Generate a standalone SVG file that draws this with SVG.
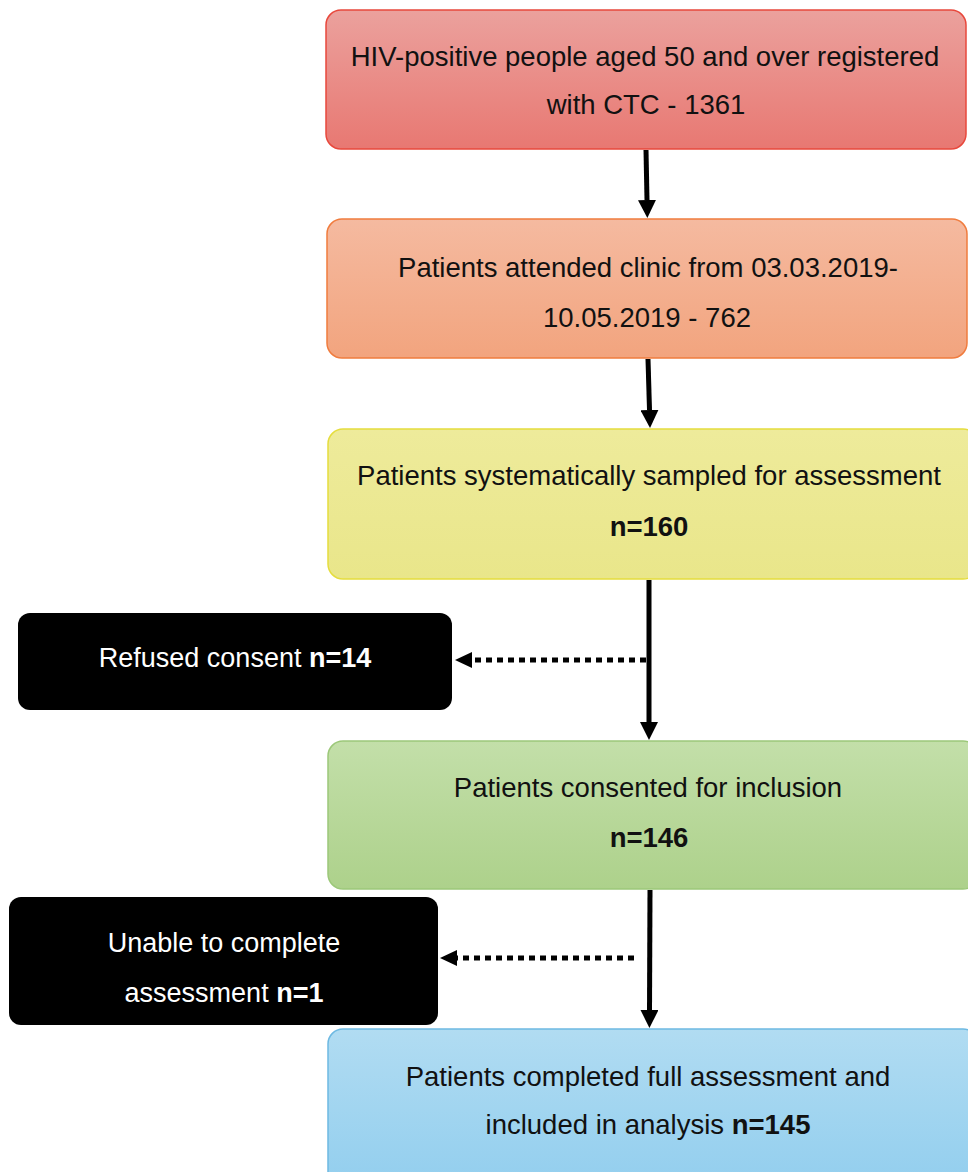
<svg xmlns="http://www.w3.org/2000/svg" width="968" height="1172" viewBox="0 0 968 1172">
<style>
  .t { font-family: "Liberation Sans", Arial, sans-serif; font-size: 27.5px; fill: #111; text-anchor: middle; }
  .w { fill: #fff; font-size: 27px; }
  .b { font-weight: bold; }
  .box { stroke-width: 1.5; }
  .blk { fill: #000; }
  .solid { stroke: #000; stroke-width: 5; fill: none; }
  .dash { stroke: #000; stroke-width: 5; fill: none; stroke-dasharray: 6 5; }
</style>
<defs>
  <linearGradient id="g1" x1="0" y1="0" x2="0" y2="1"><stop offset="0" stop-color="#EBA19D"/><stop offset="1" stop-color="#E87872"/></linearGradient>
  <linearGradient id="g2" x1="0" y1="0" x2="0" y2="1"><stop offset="0" stop-color="#F5BAA0"/><stop offset="1" stop-color="#F2A47E"/></linearGradient>
  <linearGradient id="g3" x1="0" y1="0" x2="0" y2="1"><stop offset="0" stop-color="#EEEB9B"/><stop offset="1" stop-color="#E9E68A"/></linearGradient>
  <linearGradient id="g4" x1="0" y1="0" x2="0" y2="1"><stop offset="0" stop-color="#C3DFA9"/><stop offset="1" stop-color="#ADD18B"/></linearGradient>
  <linearGradient id="g5" x1="0" y1="0" x2="0" y2="1"><stop offset="0" stop-color="#B1DCF2"/><stop offset="1" stop-color="#92CEEE"/></linearGradient>
  <marker id="ah" markerUnits="userSpaceOnUse" markerWidth="18" markerHeight="18" refX="0" refY="9" orient="auto" viewBox="0 0 18 18">
    <path d="M0,0 L18,9 L0,18 z" fill="#000"/>
  </marker>
  <marker id="ahd" markerUnits="userSpaceOnUse" markerWidth="17" markerHeight="16" refX="0" refY="8" orient="auto" viewBox="0 0 17 16">
    <path d="M0,0 L17,8 L0,16 z" fill="#000"/>
  </marker>
</defs>

<g id="connectors">
  <path class="solid" d="M646,150 L647,200" marker-end="url(#ah)"/>
  <path class="solid" d="M648,359 L649.5,410" marker-end="url(#ah)"/>
  <path class="solid" d="M649,580 L649,722" marker-end="url(#ah)"/>
  <path class="solid" d="M650,890 L649.5,1010" marker-end="url(#ah)"/>
  <path class="dash" d="M646,660 L472,660" marker-end="url(#ahd)"/>
  <path class="dash" d="M634,958 L457,958" marker-end="url(#ahd)"/>
</g>

<g id="node1">
  <rect class="box" x="326" y="10" width="640" height="139" rx="15" fill="url(#g1)" stroke="#E8483C"/>
  <text class="t" x="645" y="66">HIV-positive people aged 50 and over registered</text>
  <text class="t" x="646" y="114">with CTC - 1361</text>
</g>

<g id="node2">
  <rect class="box" x="327" y="219" width="640" height="139" rx="15" fill="url(#g2)" stroke="#F07C3E"/>
  <text class="t" x="648" y="277">Patients attended clinic from 03.03.2019-</text>
  <text class="t" x="647" y="327">10.05.2019 - 762</text>
</g>

<g id="node3">
  <rect class="box" x="328" y="429" width="650" height="150" rx="15" fill="url(#g3)" stroke="#E5DD3E"/>
  <text class="t" x="649" y="485">Patients systematically sampled for assessment</text>
  <text class="t b" x="649" y="536">n=160</text>
</g>

<g id="node4">
  <rect class="box" x="328" y="741" width="650" height="148" rx="15" fill="url(#g4)" stroke="#9CC879"/>
  <text class="t" x="648" y="797">Patients consented for inclusion</text>
  <text class="t b" x="649" y="847">n=146</text>
</g>

<g id="node5">
  <rect class="box" x="328" y="1029" width="650" height="160" rx="15" fill="url(#g5)" stroke="#6DB9E2"/>
  <text class="t" x="648" y="1086">Patients completed full assessment and</text>
  <text class="t" x="648" y="1134">included in analysis <tspan class="b">n=145</tspan></text>
</g>

<g id="excl1">
  <rect class="blk" x="18" y="613" width="434" height="97" rx="12"/>
  <text class="t w" x="235" y="667">Refused consent <tspan class="b">n=14</tspan></text>
</g>

<g id="excl2">
  <rect class="blk" x="9" y="897" width="429" height="128" rx="12"/>
  <text class="t w" x="224" y="952">Unable to complete</text>
  <text class="t w" x="224" y="1002">assessment <tspan class="b">n=1</tspan></text>
</g>
</svg>
